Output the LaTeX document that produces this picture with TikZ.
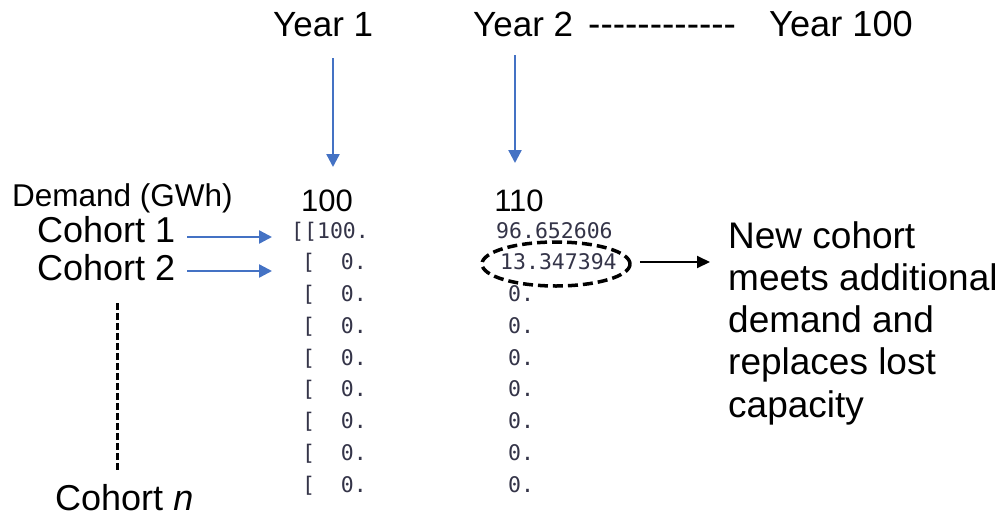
\documentclass[tikz,border=0pt]{standalone}
\usepackage{fontspec}
\setmainfont{Liberation Sans}
\newfontfamily\codefont{DejaVu Sans Mono}
\usetikzlibrary{arrows.meta,shapes.geometric}
\definecolor{officeblue}{RGB}{68,114,196}
\definecolor{codegray}{RGB}{52,52,72}
\begin{document}
\begin{tikzpicture}[x=1pt,y=-1pt,
  lbl/.style={anchor=base west, inner sep=0pt, font=\fontsize{35}{42}\selectfont},
  cohortlbl/.style={anchor=base west, inner sep=0pt, font=\fontsize{36}{42}\selectfont},
  valuelbl/.style={anchor=base, inner sep=0pt, font=\fontsize{31}{36}\selectfont},
  code/.style={anchor=base west, inner sep=0pt, text=codegray, font=\codefont\fontsize{21.5}{25}\selectfont},
  bluearrow/.style={draw=officeblue, line width=2.4pt, -{Triangle[length=13pt,width=13pt]}},
  blackarrow/.style={draw=black, line width=2pt, -{Triangle[length=13pt,width=12pt]}},
  dashline/.style={draw=black, line width=3pt, dash pattern=on 7pt off 3pt},
  dashellipse/.style={draw=black, line width=3.5pt, dash pattern=on 10pt off 5pt, ellipse, inner sep=0pt, minimum width=148pt, minimum height=44pt}
]
\useasboundingbox (0,0) rectangle (1002,517);

% year headers
\node[lbl] (y1) at (273,36) {Year 1};
\node[lbl] (y2) at (473,36) {Year 2};
\node[lbl, font=\fontsize{37}{42}\selectfont] (ydash) at (588,36) {-{}-{}-{}-{}-{}-{}-{}-{}-{}-{}-{}-};
\node[lbl, font=\fontsize{36.2}{42}\selectfont] (y100) at (769,36) {Year 100};

% demand row
\node[anchor=base west, inner sep=0pt, font=\fontsize{31.5}{36}\selectfont] (dem) at (12,206) {Demand (GWh)};
\node[valuelbl] (d1) at (327,211) {100};
\node[valuelbl] (d2) at (519,211) {110};

% year arrows
\coordinate (a1s) at (333,58);
\coordinate (a1e) at (333,167);
\coordinate (a2s) at (515,55);
\coordinate (a2e) at (515,163);
\draw[bluearrow] (a1s) -- (a1e);
\draw[bluearrow] (a2s) -- (a2e);

% cohort labels
\node[cohortlbl] (c1) at (37,242) {Cohort 1};
\node[cohortlbl] (c2) at (37,280) {Cohort 2};
\node[cohortlbl] (cn) at (55,510) {Cohort \textit{n}};

% code block
\node[code] (r1a) at (291,238) {[[100.};
\node[code] (r2a) at (289,269.75) {\ [\ \ 0.};
\foreach \i in {2,...,8} {
  \node[code] (r\i a) at (289,{238+31.75*\i}) {\ [\ \ 0.};
  \node[code] (r\i b) at (508,{238+31.75*\i}) {0.};
}
\node[code] (r1b) at (496,238) {96.652606};
\node[code] (r2b) at (500,269.75) {13.347394};

% cohort arrows
\coordinate (ca1e) at (272,237);
\coordinate (ca2e) at (272,271);
\path (c1.east |- ca1e) ++(12,0) coordinate (ca1s);
\path (c2.east |- ca2e) ++(12,0) coordinate (ca2s);
\draw[bluearrow] (ca1s) -- (ca1e);
\draw[bluearrow] (ca2s) -- (ca2e);

% dashed vertical
\coordinate (vt) at (117,303);
\coordinate (vb) at (117,472);
\draw[dashline] (vt) -- (vb);

% ellipse highlight
\node[dashellipse] (ell) at (556,264) {};

% right text
\node[anchor=north west, inner sep=0pt, align=left, font=\fontsize{37}{42.3}\selectfont] (note) at (728,221)
  {New cohort\\meets additional\\demand and\\replaces lost\\capacity};

\coordinate (bae) at (710,262);
\draw[blackarrow] ([xshift=8pt]ell.east |- bae) -- (bae);
\end{tikzpicture}
\end{document}
